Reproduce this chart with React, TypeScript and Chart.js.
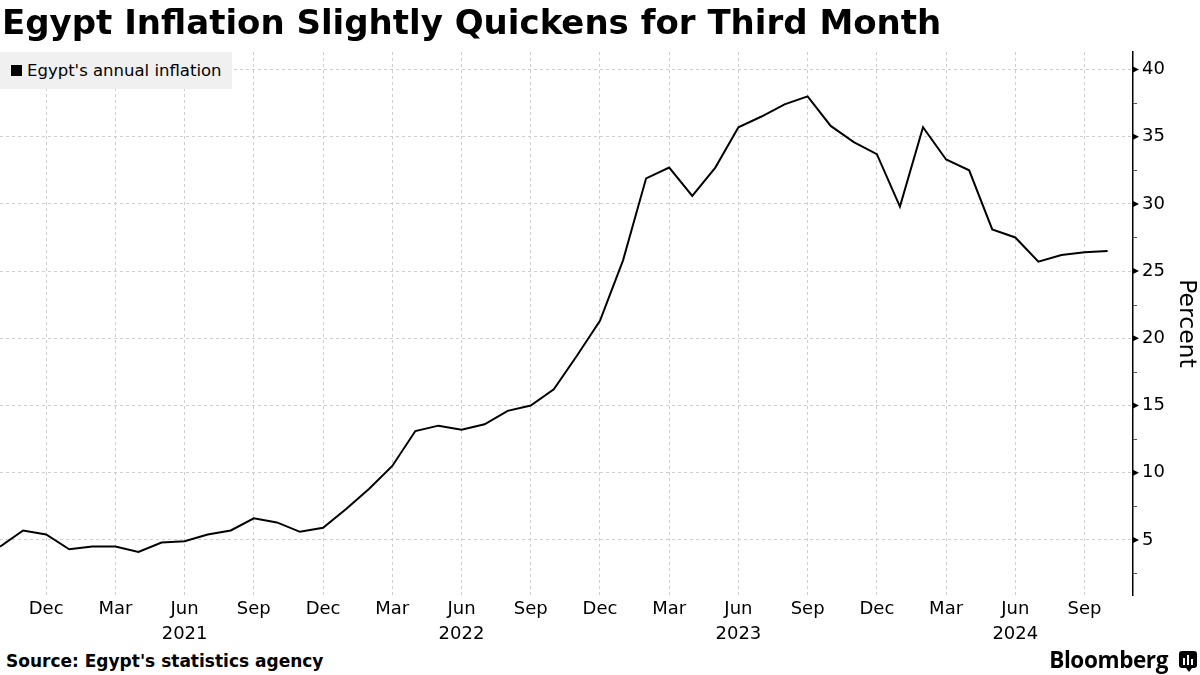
import React, { useEffect, useRef } from "react";
import { Chart, registerables } from "chart.js";

Chart.register(...registerables);

// Monthly periods (Oct 2020 – Oct 2024)
const periods = [
  "2020-10", "2020-11", "2020-12",
  "2021-01", "2021-02", "2021-03", "2021-04", "2021-05", "2021-06",
  "2021-07", "2021-08", "2021-09", "2021-10", "2021-11", "2021-12",
  "2022-01", "2022-02", "2022-03", "2022-04", "2022-05", "2022-06",
  "2022-07", "2022-08", "2022-09", "2022-10", "2022-11", "2022-12",
  "2023-01", "2023-02", "2023-03", "2023-04", "2023-05", "2023-06",
  "2023-07", "2023-08", "2023-09", "2023-10", "2023-11", "2023-12",
  "2024-01", "2024-02", "2024-03", "2024-04", "2024-05", "2024-06",
  "2024-07", "2024-08", "2024-09", "2024-10",
];

// Egypt's annual inflation, percent
const inflation = [
  4.5, 5.7, 5.4,
  4.3, 4.5, 4.5, 4.1, 4.8, 4.9,
  5.4, 5.7, 6.6, 6.3, 5.6, 5.9,
  7.3, 8.8, 10.5, 13.1, 13.5, 13.2,
  13.6, 14.6, 15.0, 16.2, 18.7, 21.3,
  25.8, 31.9, 32.7, 30.6, 32.7, 35.7,
  36.5, 37.4, 38.0, 35.8, 34.6, 33.7,
  29.8, 35.7, 33.3, 32.5, 28.1, 27.5,
  25.7, 26.2, 26.4, 26.5,
];

const monthNames = ["Jan", "Feb", "Mar", "Apr", "May", "Jun", "Jul", "Aug", "Sep", "Oct", "Nov", "Dec"];
const tickMonths = [12, 3, 6, 9];
const yearLabelMonth = 6;
const yTicks = [5, 10, 15, 20, 25, 30, 35, 40];
const yMinorTicks = [2.5, 7.5, 12.5, 17.5, 22.5, 27.5, 32.5, 37.5];

const seriesLabel = "Egypt's annual inflation";
const title = "Egypt Inflation Slightly Quickens for Third Month";
const source = "Source: Egypt's statistics agency";
const yTitle = "Percent";

const FONT = "'DejaVu Sans', sans-serif";

export default function App() {
  const ref = useRef<HTMLCanvasElement | null>(null);

  useEffect(() => {
    if (!ref.current) return;
    const points = inflation.map((v, i) => ({ x: i, y: v }));
    const xTickIdx = periods
      .map((p, i) => ({ i, m: parseInt(p.slice(5), 10), y: p.slice(0, 4) }))
      .filter((o) => tickMonths.includes(o.m));

    const labelFor = (v: number) => {
      const o = xTickIdx.find((t) => t.i === v);
      if (!o) return "";
      const name = monthNames[o.m - 1];
      return o.m === yearLabelMonth ? [name, o.y] : name;
    };

    const tickPlugin = {
      id: "yTickMarks",
      afterDraw(chart: any) {
        const { ctx, chartArea } = chart;
        const ys = chart.scales.y;
        const x0 = chartArea.right;
        ctx.save();
        ctx.fillStyle = "#000";
        yTicks.forEach((v) => {
          const py = ys.getPixelForValue(v);
          ctx.beginPath();
          ctx.moveTo(x0, py - 3);
          ctx.lineTo(x0 + 6, py);
          ctx.lineTo(x0, py + 3);
          ctx.closePath();
          ctx.fill();
        });
        ctx.strokeStyle = "#555";
        ctx.lineWidth = 1;
        yMinorTicks.forEach((v) => {
          const py = Math.round(ys.getPixelForValue(v)) + 0.5;
          ctx.beginPath();
          ctx.moveTo(x0, py);
          ctx.lineTo(x0 + 4, py);
          ctx.stroke();
        });
        ctx.restore();
      },
    };

    const chart = new Chart(ref.current, {
      type: "line",
      data: {
        datasets: [
          {
            label: seriesLabel,
            data: points,
            borderColor: "#000",
            borderWidth: 2,
            pointRadius: 0,
            tension: 0,
            fill: false,
          },
        ],
      },
      options: {
        animation: false,
        responsive: false,
        maintainAspectRatio: false,
        layout: { padding: { top: 52, left: 0, right: 0, bottom: 0 } },
        plugins: {
          legend: { display: false },
          tooltip: { enabled: false },
        },
        scales: {
          x: {
            type: "linear",
            min: 0,
            max: 49.1,
            afterFit(scale: any) {
              scale.height = 55;
            },
            afterBuildTicks(scale: any) {
              scale.ticks = xTickIdx.map((t) => ({ value: t.i }));
            },
            grid: {
              color: "#cfcfcf",
              lineWidth: 1,
              drawTicks: false,
            },
            border: { display: false, dash: [3, 3] },
            ticks: {
              autoSkip: false,
              maxRotation: 0,
              padding: 2,
              color: "#000",
              font: { family: FONT, size: 18, lineHeight: 1.4 },
              callback: (v: any) => labelFor(Number(v)) as any,
            },
          },
          y: {
            type: "linear",
            position: "right",
            min: 0.9,
            max: 41.3,
            afterFit(scale: any) {
              scale.width = 67;
            },
            afterBuildTicks(scale: any) {
              scale.ticks = yTicks.map((v) => ({ value: v }));
            },
            grid: {
              color: "#cfcfcf",
              lineWidth: 1,
              drawTicks: false,
            },
            border: { display: true, color: "#000", width: 1.5, dash: [3, 3] },
            ticks: {
              padding: 9,
              color: "#000",
              font: { family: FONT, size: 18 },
              callback: (v: any) => String(v),
            },
            title: {
              display: true,
              text: yTitle,
              color: "#000",
              font: { family: FONT, size: 23.5 },
              padding: { top: 0, bottom: 0 },
            },
          },
        },
      },
      plugins: [tickPlugin],
    });
    return () => chart.destroy();
  }, []);

  return (
    <div
      style={{
        position: "fixed",
        left: 0,
        top: 0,
        width: 1200,
        height: 675,
        background: "#fff",
        overflow: "hidden",
        fontFamily: FONT,
      }}
    >
      <canvas
        ref={ref}
        width={1200}
        height={650}
        style={{ position: "absolute", left: 0, top: 0, width: 1200, height: 650 }}
      />
      <div
        style={{
          position: "absolute",
          left: 2,
          top: 2,
          fontSize: 34,
          fontWeight: "bold",
          color: "#000",
          whiteSpace: "nowrap",
          lineHeight: "40px",
        }}
      >
        {title}
      </div>
      <div
        style={{
          position: "absolute",
          left: 0,
          top: 52,
          width: 232,
          height: 37,
          background: "#f0f0f0",
          display: "flex",
          alignItems: "center",
          fontSize: 16.5,
          color: "#000",
          whiteSpace: "nowrap",
        }}
      >
        <span
          style={{
            display: "inline-block",
            width: 11,
            height: 11,
            background: "#000",
            marginLeft: 11,
            marginRight: 5,
          }}
        />
        {seriesLabel}
      </div>
      <div
        style={{
          position: "absolute",
          left: 6,
          top: 650,
          fontSize: 17,
          fontWeight: "bold",
          color: "#000",
          whiteSpace: "nowrap",
          lineHeight: "22px",
        }}
      >
        {source}
      </div>
      <div
        style={{
          position: "absolute",
          right: 32,
          top: 645,
          fontSize: 22.5,
          fontWeight: "bold",
          fontFamily: "'Open Sans', 'Liberation Sans', sans-serif",
          color: "#000",
          whiteSpace: "nowrap",
          lineHeight: "30px",
          letterSpacing: -0.4,
        }}
      >
        Bloomberg
      </div>
      <div
        style={{
          position: "absolute",
          left: 1179,
          top: 651,
          width: 18,
          height: 17,
          background: "#000",
          borderRadius: 3,
        }}
      >
        <div style={{ position: "absolute", left: 4, top: 7, width: 2, height: 7, background: "#fff" }} />
        <div style={{ position: "absolute", left: 8, top: 4, width: 2, height: 10, background: "#fff" }} />
        <div style={{ position: "absolute", left: 12, top: 8, width: 2, height: 6, background: "#fff" }} />
        <div style={{ position: "absolute", left: 7, top: 17, width: 0, height: 0, borderLeft: "3px solid transparent", borderRight: "3px solid transparent", borderTop: "4px solid #000" }} />
      </div>
    </div>
  );
}
